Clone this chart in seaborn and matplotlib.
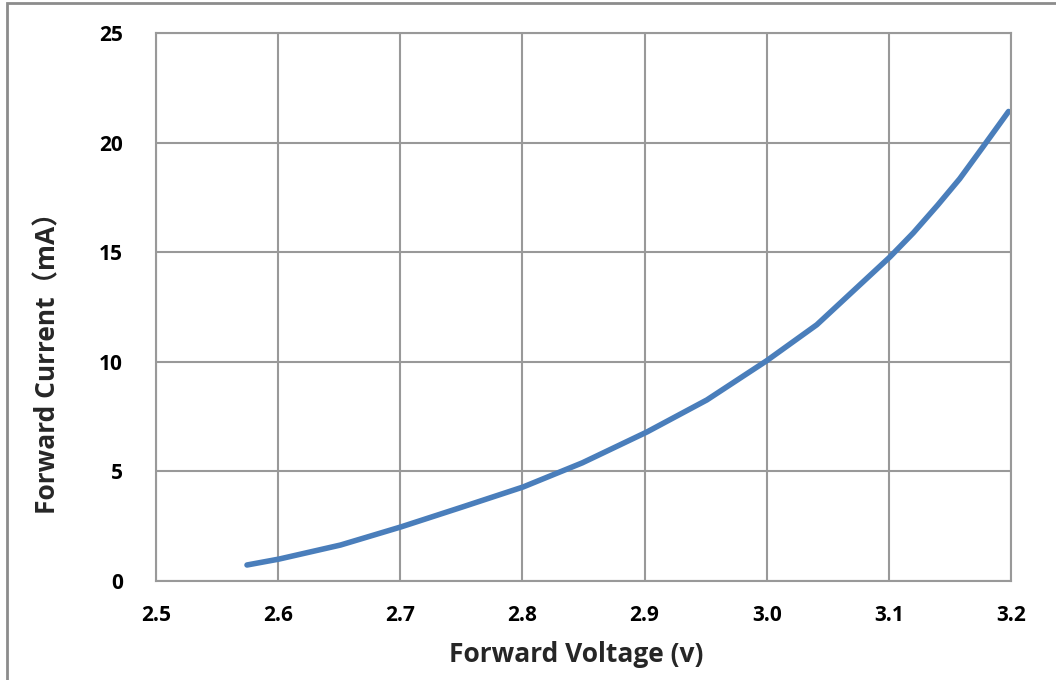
import seaborn as sns
import pandas as pd
import matplotlib.pyplot as plt
from matplotlib.patches import Rectangle

# values
voltage = [2.5745, 2.6007, 2.651, 2.7007, 2.751, 2.8006, 2.849, 2.902, 2.951,
           3.000, 3.041, 3.101, 3.120, 3.140, 3.158, 3.177, 3.198]
current = [0.73, 1.00, 1.64, 2.47, 3.38, 4.29, 5.39, 6.80, 8.26,
           10.05, 11.69, 14.79, 15.88, 17.15, 18.35, 19.80, 21.42]

x_ticks = [2.5, 2.6, 2.7, 2.8, 2.9, 3.0, 3.1, 3.2]
y_ticks = [0, 5, 10, 15, 20, 25]

sns.set_theme(style="white")
plt.rcParams['font.family'] = ['Open Sans', 'Noto Sans CJK SC', 'DejaVu Sans']

df = pd.DataFrame({"Voltage": voltage, "Current": current})

fig = plt.figure(figsize=(10.56, 6.8), dpi=100)
ax = fig.add_axes([156 / 1056, 1 - 581 / 680, 855 / 1056, 548 / 680])

sns.lineplot(data=df, x="Voltage", y="Current", ax=ax, color="#4a7ebb",
             linewidth=4, solid_capstyle="round", solid_joinstyle="round")

ax.set_xlim(2.5, 3.2)
ax.set_ylim(0, 25)
ax.set_xticks(x_ticks)
ax.set_yticks(y_ticks)
ax.set_xticklabels(["{0:.1f}".format(v) for v in x_ticks], fontsize=15, fontweight="bold")
ax.set_yticklabels([str(v) for v in y_ticks], fontsize=15, fontweight="bold")
ax.tick_params(axis="x", length=0, pad=17, colors="black")
ax.tick_params(axis="y", length=0, pad=24, colors="black")

ax.grid(True, color="#999999", linewidth=1.5)
for s in ax.spines.values():
    s.set_color("#999999")
    s.set_linewidth(1.5)

ax.set_xlabel("Forward Voltage (v)", fontsize=19, fontweight="bold", va="center")
ax.set_ylabel("Forward Current（mA）", fontsize=19, fontweight="bold", va="center")
ax.xaxis.set_label_coords(0.491, -0.135)
ax.yaxis.set_label_coords(-0.126, 0.409)

# outer chart frame
fig.patches.append(Rectangle((7 / 1056, -0.05), 1.1, 1 - 3 / 680 + 0.05,
                             transform=fig.transFigure, fill=False,
                             edgecolor="#8c8c8c", linewidth=2))

fig.savefig("out.png", dpi=100)
